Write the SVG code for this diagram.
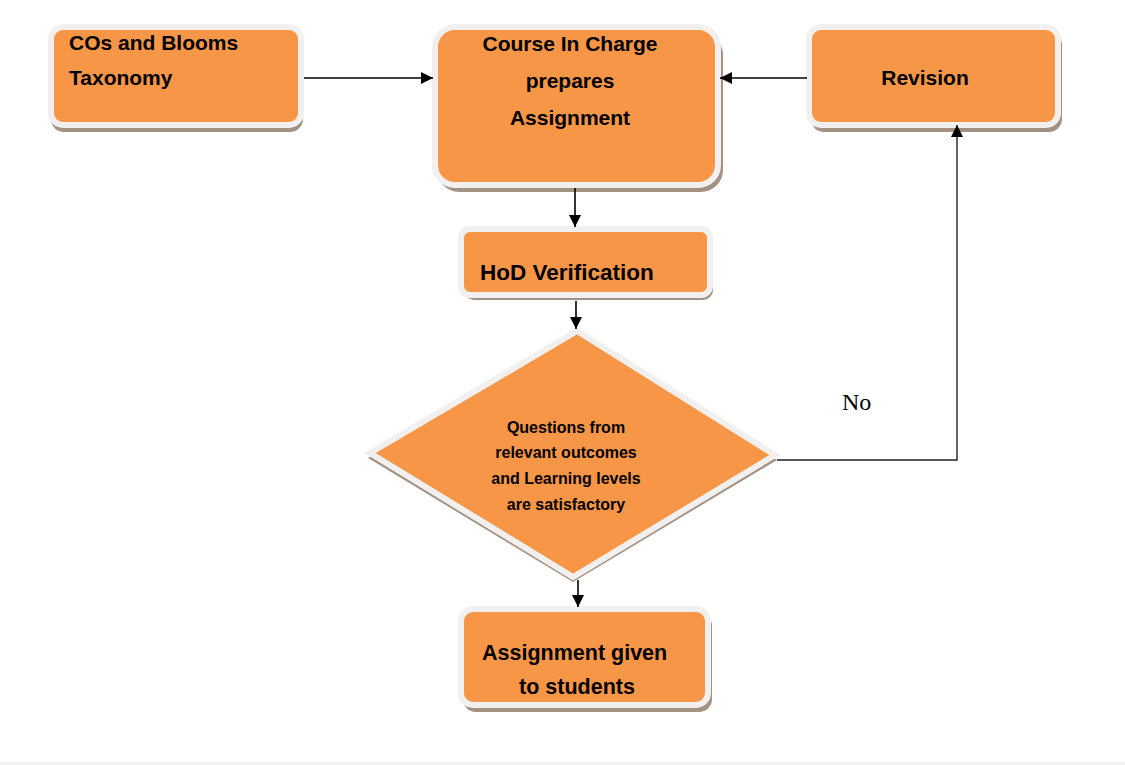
<svg xmlns="http://www.w3.org/2000/svg" width="1125" height="765" viewBox="0 0 1125 765">
<defs>
<style>
.box{fill:#f79646;stroke:#f1f0ef;stroke-width:6}
.sh{fill:#a39182}
.t{font-family:"Liberation Sans",Arial,sans-serif;font-weight:bold;fill:#000}
.c{stroke:#000;stroke-width:1.6;fill:none}
</style>
<marker id="ah" markerUnits="userSpaceOnUse" markerWidth="13" markerHeight="13" refX="12" refY="6" orient="auto">
<path d="M0,0 L12,6 L0,12 z" fill="#000"/>
</marker>
</defs>
<rect width="1125" height="765" fill="#fff"/>
<rect y="762" width="1125" height="3" fill="#f2f2f2"/>

<g id="cos">
<rect class="sh" x="51" y="32" width="252" height="100" rx="13"/>
<rect class="box" x="51" y="27" width="250" height="98" rx="12"/>
<text class="t" font-size="21" x="69" y="50">COs and Blooms</text>
<text class="t" font-size="21" x="69" y="85">Taxonomy</text>
</g>

<g id="course">
<rect class="sh" x="437" y="33" width="286" height="159" rx="22"/>
<rect class="box" x="435" y="27" width="283" height="158" rx="20"/>
<text class="t" font-size="21" x="570" y="51" text-anchor="middle">Course In Charge</text>
<text class="t" font-size="21" x="570" y="88" text-anchor="middle">prepares</text>
<text class="t" font-size="21" x="570" y="125" text-anchor="middle">Assignment</text>
</g>

<g id="revision">
<rect class="sh" x="811" y="32" width="251" height="100" rx="13"/>
<rect class="box" x="809" y="27" width="249" height="98" rx="12"/>
<text class="t" font-size="21" x="925" y="85" text-anchor="middle">Revision</text>
</g>

<g id="hod">
<rect class="sh" x="464" y="234" width="249" height="66" rx="10"/>
<rect class="box" x="461" y="229" width="249" height="66" rx="9"/>
<text class="t" font-size="22.5" x="480" y="280">HoD Verification</text>
</g>

<g id="decision">
<polygon class="sh" points="577,336 777,460 573,582 368,458"/>
<polygon class="box" points="577,331 775,455 573,577 370,453"/>
<text class="t" font-size="16" x="566" y="433" text-anchor="middle">Questions from</text>
<text class="t" font-size="16" x="566" y="458" text-anchor="middle">relevant outcomes</text>
<text class="t" font-size="16" x="566" y="484" text-anchor="middle">and Learning levels</text>
<text class="t" font-size="16" x="566" y="510" text-anchor="middle">are satisfactory</text>
</g>

<g id="given">
<rect class="sh" x="463" y="613" width="249" height="99" rx="13"/>
<rect class="box" x="461" y="609" width="247" height="96" rx="12"/>
<text class="t" font-size="21.5" x="482" y="660">Assignment given</text>
<text class="t" font-size="21.5" x="577" y="694" text-anchor="middle">to students</text>
</g>

<g id="label-no">
<text x="842" y="410" font-family="'Liberation Serif','Times New Roman',serif" font-size="24" fill="#000">No</text>
</g>

<g id="connectors">
<line class="c" x1="304" y1="78" x2="433" y2="78" marker-end="url(#ah)"/>
<line class="c" x1="807" y1="78" x2="720" y2="78" marker-end="url(#ah)"/>
<line class="c" x1="575" y1="188" x2="575" y2="227" marker-end="url(#ah)"/>
<line class="c" x1="576" y1="301" x2="576" y2="329" marker-end="url(#ah)"/>
<line class="c" x1="578" y1="580" x2="578" y2="607" marker-end="url(#ah)"/>
<polyline class="c" style="stroke:#222;stroke-width:1.4" points="777,460 957,460 957,125" marker-end="url(#ah)"/>
</g>
</svg>
